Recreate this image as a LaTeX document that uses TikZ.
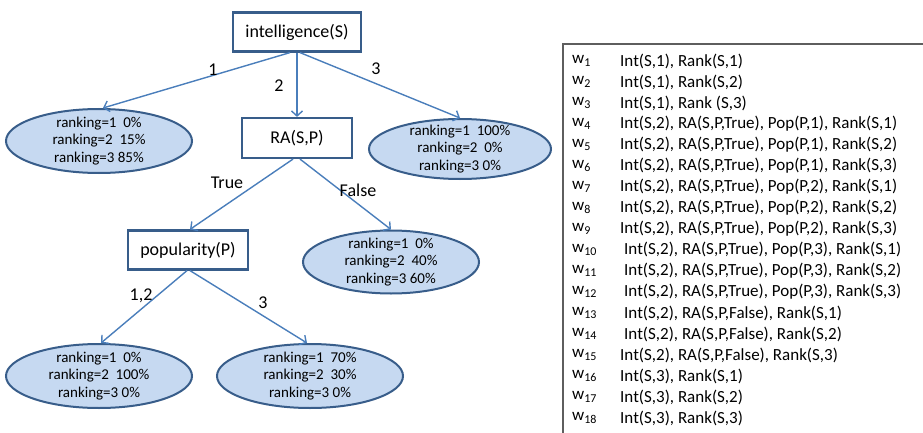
\documentclass[tikz,border=0pt]{standalone}
\usepackage{fontspec}
\setmainfont{Carlito}
\usetikzlibrary{shapes.geometric,arrows.meta}
\definecolor{boxedge}{HTML}{385D8A}
\definecolor{leaffill}{HTML}{C6D9F1}
\definecolor{arrowblue}{HTML}{4A7EBB}
\definecolor{tableedge}{HTML}{5E5E5E}
% world name with a lowered subscript index
\newcommand{\wname}[1]{w\raisebox{-3.5pt}{\fontsize{12}{12}\selectfont #1}}
\begin{document}
\begin{tikzpicture}[x=1pt,y=-1pt,
  testbox/.style={draw=boxedge, line width=2.2pt, fill=white, inner sep=0pt,
    font=\fontsize{18}{21}\selectfont},
  leaf/.style={ellipse, draw=boxedge, line width=2pt, fill=leaffill, inner sep=0pt},
  leaftext/.style={align=center, inner sep=0pt, font=\fontsize{15}{17.5}\selectfont},
  branch/.style={draw=arrowblue, line width=1.4pt,
    -{Straight Barb[length=5pt,width=11pt,line width=1.4pt]}},
  edgelab/.style={inner sep=0pt, font=\fontsize{18}{21}\selectfont},
  wlabel/.style={anchor=west, inner sep=0pt, font=\fontsize{17}{20}\selectfont},
  wrow/.style={anchor=west, inner sep=0pt, font=\fontsize{17}{20}\selectfont},
]
\useasboundingbox (0,0) rectangle (923,433);

% decision nodes
\node[testbox, minimum width=128pt, minimum height=39pt] (int) at (297,32) {intelligence(S)};
\node[testbox, minimum width=110pt, minimum height=40pt] (ra) at (297,138) {RA(S,P)};
\node[testbox, minimum width=120pt, minimum height=39pt] (pop) at (188,250) {popularity(P)};

% leaf distributions
\node[leaf, minimum width=186pt, minimum height=64pt] (e1) at (99,141) {};
\node[leaftext] (t1) at (e1.center) {ranking=1~~0\%\\ranking=2~~15\%\\ranking=3 85\%};
\node[leaf, minimum width=182pt, minimum height=60pt] (e3) at (460,149) {};
\node[leaftext] (t3) at (e3.center) {ranking=1~~100\%\\ranking=2~~0\%\\ranking=3 0\%};
\node[leaf, minimum width=176pt, minimum height=63pt] (ef) at (391,262) {};
\node[leaftext] (tf) at (ef.center) {ranking=1~~0\%\\ranking=2~~40\%\\ranking=3 60\%};
\node[leaf, minimum width=186pt, minimum height=64pt] (ea) at (99,376) {};
\node[leaftext] (ta) at (ea.center) {ranking=1~~0\%\\ranking=2~~100\%\\ranking=3 0\%};
\node[leaf, minimum width=186pt, minimum height=64pt] (eb) at (310,376) {};
\node[leaftext] (tb) at (eb.center) {ranking=1~~70\%\\ranking=2~~30\%\\ranking=3 0\%};

% branches
\draw[branch] ([xshift=-7pt]int.south) -- ([xshift=4pt]e1.north);
\draw[branch] (int.south) -- (ra.north);
\draw[branch] ([xshift=3pt]int.south) -- (e3.north);
\draw[branch] ([xshift=-4pt]ra.south) -- ([xshift=2pt]pop.north);
\draw[branch] ([xshift=3pt]ra.south) -- (ef.north);
\draw[branch] ([xshift=-1pt]pop.south) -- ([xshift=2pt]ea.north);
\draw[branch] ([xshift=2pt]pop.south) -- ([xshift=-3pt]eb.north);

% branch labels
\node[edgelab] (l1) at (213,70) {1};
\node[edgelab] (l2) at (279,86) {2};
\node[edgelab] (l3) at (376,69) {3};
\node[edgelab] (lt) at (227,183) {True};
\node[edgelab] (lf) at (358,190) {False};
\node[edgelab] (l12) at (141,296) {1,2};
\node[edgelab] (l3b) at (263,303) {3};

% world table frame (open on the right and bottom)
\draw[tableedge, line width=2.4pt] (563,433) -- (563,44) -- (923,44);

% world table rows
\node[wlabel] (w1) at (572,61) {\wname{1}};
\node[wrow] (r1) at (620,61) {Int(S,1), Rank(S,1)};
\node[wlabel] (w2) at (572,82) {\wname{2}};
\node[wrow] (r2) at (620,82) {Int(S,1), Rank(S,2)};
\node[wlabel] (w3) at (572,103) {\wname{3}};
\node[wrow] (r3) at (620,103) {Int(S,1), Rank (S,3)};
\node[wlabel] (w4) at (572,124) {\wname{4}};
\node[wrow] (r4) at (620,124) {Int(S,2), RA(S,P,True), Pop(P,1), Rank(S,1)};
\node[wlabel] (w5) at (572,145) {\wname{5}};
\node[wrow] (r5) at (620,145) {Int(S,2), RA(S,P,True), Pop(P,1), Rank(S,2)};
\node[wlabel] (w6) at (572,166) {\wname{6}};
\node[wrow] (r6) at (620,166) {Int(S,2), RA(S,P,True), Pop(P,1), Rank(S,3)};
\node[wlabel] (w7) at (572,187) {\wname{7}};
\node[wrow] (r7) at (620,187) {Int(S,2), RA(S,P,True), Pop(P,2), Rank(S,1)};
\node[wlabel] (w8) at (572,208) {\wname{8}};
\node[wrow] (r8) at (620,208) {Int(S,2), RA(S,P,True), Pop(P,2), Rank(S,2)};
\node[wlabel] (w9) at (572,229) {\wname{9}};
\node[wrow] (r9) at (620,229) {Int(S,2), RA(S,P,True), Pop(P,2), Rank(S,3)};
\node[wlabel] (w10) at (572,250) {\wname{10}};
\node[wrow] (r10) at (624,250) {Int(S,2), RA(S,P,True), Pop(P,3), Rank(S,1)};
\node[wlabel] (w11) at (572,271) {\wname{11}};
\node[wrow] (r11) at (624,271) {Int(S,2), RA(S,P,True), Pop(P,3), Rank(S,2)};
\node[wlabel] (w12) at (572,292) {\wname{12}};
\node[wrow] (r12) at (624,292) {Int(S,2), RA(S,P,True), Pop(P,3), Rank(S,3)};
\node[wlabel] (w13) at (572,313) {\wname{13}};
\node[wrow] (r13) at (624,313) {Int(S,2), RA(S,P,False), Rank(S,1)};
\node[wlabel] (w14) at (572,334) {\wname{14}};
\node[wrow] (r14) at (624,334) {Int(S,2), RA(S,P,False), Rank(S,2)};
\node[wlabel] (w15) at (572,355) {\wname{15}};
\node[wrow] (r15) at (620,355) {Int(S,2), RA(S,P,False), Rank(S,3)};
\node[wlabel] (w16) at (572,376) {\wname{16}};
\node[wrow] (r16) at (620,376) {Int(S,3), Rank(S,1)};
\node[wlabel] (w17) at (572,397) {\wname{17}};
\node[wrow] (r17) at (620,397) {Int(S,3), Rank(S,2)};
\node[wlabel] (w18) at (572,418) {\wname{18}};
\node[wrow] (r18) at (620,418) {Int(S,3), Rank(S,3)};
\end{tikzpicture}
\end{document}
